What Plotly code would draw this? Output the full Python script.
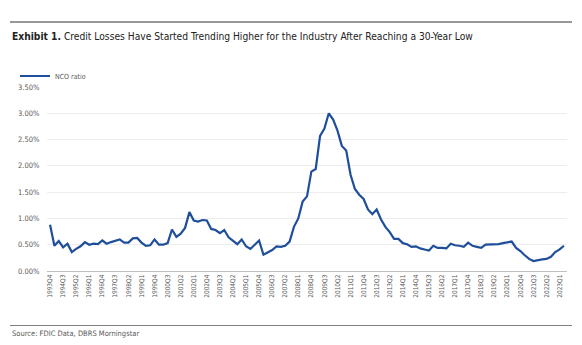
import plotly.graph_objects as go

start_year = 1993
start_q = 4
nco_ratio = [
    0.88, 0.48, 0.57, 0.45, 0.52, 0.36, 0.42, 0.47, 0.55, 0.50,
    0.52, 0.51, 0.58, 0.52, 0.55, 0.58, 0.60, 0.54, 0.54, 0.62,
    0.63, 0.54, 0.48, 0.49, 0.60, 0.50, 0.50, 0.53, 0.79, 0.65,
    0.71, 0.82, 1.12, 0.96, 0.94, 0.97, 0.96, 0.80, 0.78, 0.72,
    0.78, 0.64, 0.57, 0.51, 0.60, 0.47, 0.42, 0.50, 0.58, 0.31,
    0.35, 0.40, 0.47, 0.46, 0.48, 0.56, 0.84, 1.00, 1.32, 1.42,
    1.89, 1.94, 2.57, 2.71, 3.00, 2.88, 2.67, 2.38, 2.29, 1.83,
    1.56, 1.45, 1.37, 1.17, 1.08, 1.17, 0.98, 0.84, 0.74, 0.61,
    0.61, 0.53, 0.51, 0.46, 0.47, 0.43, 0.41, 0.39, 0.48, 0.44,
    0.44, 0.43, 0.52, 0.49, 0.48, 0.46, 0.54, 0.48, 0.46, 0.44,
    0.50, 0.50, 0.50, 0.51, 0.53, 0.54, 0.56, 0.44, 0.38, 0.30,
    0.23, 0.19, 0.21, 0.22, 0.23, 0.27, 0.36, 0.41, 0.48,
]

quarters = []
y, q = start_year, start_q
for _ in nco_ratio:
    quarters.append(f"{y}Q{q}")
    q += 1
    if q > 4:
        q = 1
        y += 1

tick_labels = quarters[::3]
y_ticks = [0, 0.5, 1.0, 1.5, 2.0, 2.5, 3.0, 3.5]
y_tick_text = [f"{v:.2f}%" for v in y_ticks]

FONT = "DejaVu Sans Condensed, Liberation Sans Narrow, Roboto, sans-serif"
GRAY = "#595959"

fig = go.Figure()
fig.add_trace(go.Scatter(
    x=quarters, y=nco_ratio, mode="lines", name="NCO ratio",
    line=dict(color="#1F4E9A", width=2.2),
))

L, R, T, B = 47, 15, 87, 74
W, H = 582, 345
pw = W - L - R
ph = H - T - B

def px(xp):
    return (xp - L) / pw

def py(yp):
    return (H - B - yp) / ph

fig.update_layout(
    width=W, height=H,
    margin=dict(l=L, r=R, t=T, b=B),
    paper_bgcolor="white", plot_bgcolor="white",
    font=dict(family=FONT, color=GRAY, size=8),
    showlegend=True,
    legend=dict(x=px(15), y=py(76), xanchor="left", yanchor="middle",
                orientation="h", font=dict(size=7, color=GRAY, family=FONT),
                itemwidth=30, bgcolor="rgba(0,0,0,0)",
                tracegroupgap=0),
    xaxis=dict(
        type="category", range=[-0.7, len(quarters) - 0.3],
        tickmode="array", tickvals=tick_labels, ticktext=tick_labels,
        tickangle=-90, tickfont=dict(size=6.5, color=GRAY, family=FONT),
        showgrid=False, showline=True, linecolor="#BFBFBF", linewidth=1,
        ticks="", zeroline=False,
    ),
    yaxis=dict(
        range=[0, 3.5], tickmode="array", tickvals=y_ticks, ticktext=y_tick_text,
        tickfont=dict(size=7.5, color=GRAY, family=FONT),
        showgrid=True, gridcolor="#EDEDED", gridwidth=1,
        zeroline=False, showline=False, ticks="outside", ticklen=5,
        tickcolor="rgba(0,0,0,0)",
    ),
)

fig.add_shape(type="line", xref="paper", yref="paper",
              x0=px(10), x1=px(572), y0=py(22), y1=py(22),
              line=dict(color="#333333", width=1.2))
fig.add_shape(type="line", xref="paper", yref="paper",
              x0=px(10), x1=px(572), y0=py(325.5), y1=py(325.5),
              line=dict(color="#7F7F7F", width=1))

fig.add_annotation(
    xref="paper", yref="paper", x=px(10), y=py(37),
    xanchor="left", yanchor="middle", showarrow=False,
    text="<b>Exhibit 1.</b> Credit Losses Have Started Trending Higher for the Industry After Reaching a 30-Year Low",
    font=dict(family=FONT, size=10.2, color="#222222"),
)
fig.add_annotation(
    xref="paper", yref="paper", x=px(10), y=py(333.5),
    xanchor="left", yanchor="middle", showarrow=False,
    text="Source: FDIC Data, DBRS Morningstar",
    font=dict(family=FONT, size=7.5, color=GRAY),
)

fig.write_html("out.html")
